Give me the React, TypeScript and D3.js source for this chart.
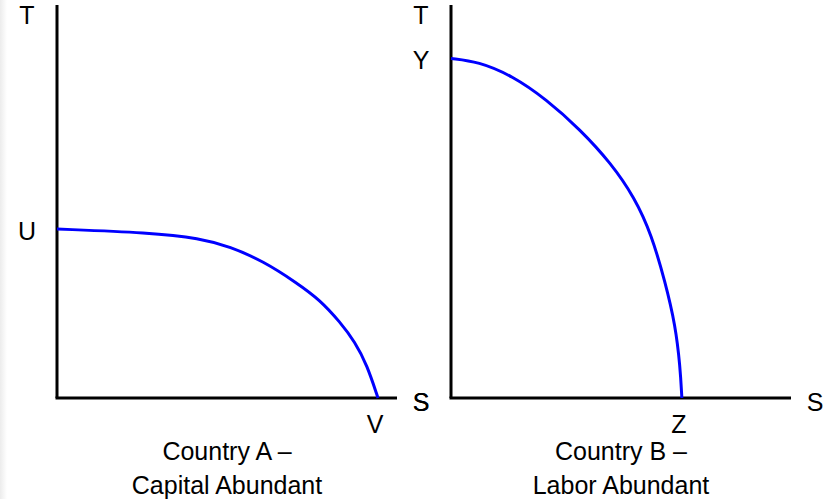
import React from "react";
import * as d3 from "d3";

// Production possibility frontier of Country A (S on x, T on y), abstract units 0..100
const curveAx = [0, 27.35, 42.06, 50.88, 60.59, 70.59, 77.35, 83.24, 87.65, 91.18, 94.41];
const curveAy = [43.0, 42.06, 40.64, 38.5, 34.86, 29.26, 24.94, 19.34, 14.25, 8.4, 0];
// Country B
const curveBx = [0, 8, 18, 28, 38, 47, 54, 59, 63, 66, 67.4, 67.9];
const curveBy = [86.4, 85.6, 82.0, 76.0, 68.3, 59.8, 51.0, 41.5, 29.5, 18.5, 7.9, 0];

const titlesA = ["Country A \u2013", "Capital Abundant"];
const titlesB = ["Country B \u2013", "Labor Abundant"];
const interceptLabelsA = { yAxis: "U", xAxis: "V" };
const interceptLabelsB = { yAxis: "Y", xAxis: "Z" };

const W = 831;
const H = 499;
const FONT = "'Liberation Sans', Arial, sans-serif";

type PanelProps = {
  x0: number;
  xs: number[];
  ys: number[];
  titles: string[];
  labels: { yAxis: string; xAxis: string };
  leftS: boolean;
};

function Panel({ x0, xs, ys, titles, labels, leftS }: PanelProps) {
  const x = d3.scaleLinear().domain([0, 100]).range([x0, x0 + 340]);
  const y = d3.scaleLinear().domain([0, 100]).range([398, 5]);
  const pts: [number, number][] = xs.map((v, i) => [v, ys[i]]);
  const line = d3
    .line<[number, number]>()
    .x((d) => x(d[0]))
    .y((d) => y(d[1]))
    .curve(d3.curveBasis);
  const labelX = x0 - 30;
  const yInt = ys[0];
  const xInt = xs[xs.length - 1];
  const cx = x0 + 170;
  return (
    <g fontFamily={FONT} fontSize={25} fill="#000">
      <line x1={x(0)} x2={x(0)} y1={y(100)} y2={y(0)} stroke="#000" strokeWidth={3} />
      <line x1={x(0) - 1.5} x2={x(100)} y1={y(0)} y2={y(0)} stroke="#000" strokeWidth={3} />
      <path d={line(pts) || ""} fill="none" stroke="#0000ff" strokeWidth={3} />
      <text x={labelX} y={24} textAnchor="middle">T</text>
      <text x={labelX} y={y(yInt) + 11} textAnchor="middle">{labels.yAxis}</text>
      <text x={x(xInt) - 3} y={433} textAnchor="middle">{labels.xAxis}</text>
      {leftS && <text x={labelX} y={411} textAnchor="middle">S</text>}
      <text x={x(100) + 24} y={411} textAnchor="middle">S</text>
      <text x={cx} y={460} textAnchor="middle">{titles[0]}</text>
      <text x={cx} y={494} textAnchor="middle">{titles[1]}</text>
    </g>
  );
}

export default function App() {
  return (
    <svg
      width={W}
      height={H}
      style={{ position: "fixed", left: 0, top: 0, background: "#fff" }}
    >
      <defs>
        <linearGradient id="edge" x1="0" x2="1" y1="0" y2="0">
          <stop offset="0" stopColor="#ececec" />
          <stop offset="1" stopColor="#ffffff" />
        </linearGradient>
      </defs>
      <rect x={0} y={0} width={W} height={H} fill="#fff" />
      <rect x={0} y={0} width={7} height={H} fill="url(#edge)" />
      <Panel x0={57} xs={curveAx} ys={curveAy} titles={titlesA} labels={interceptLabelsA} leftS={false} />
      <Panel x0={451} xs={curveBx} ys={curveBy} titles={titlesB} labels={interceptLabelsB} leftS={true} />
    </svg>
  );
}
